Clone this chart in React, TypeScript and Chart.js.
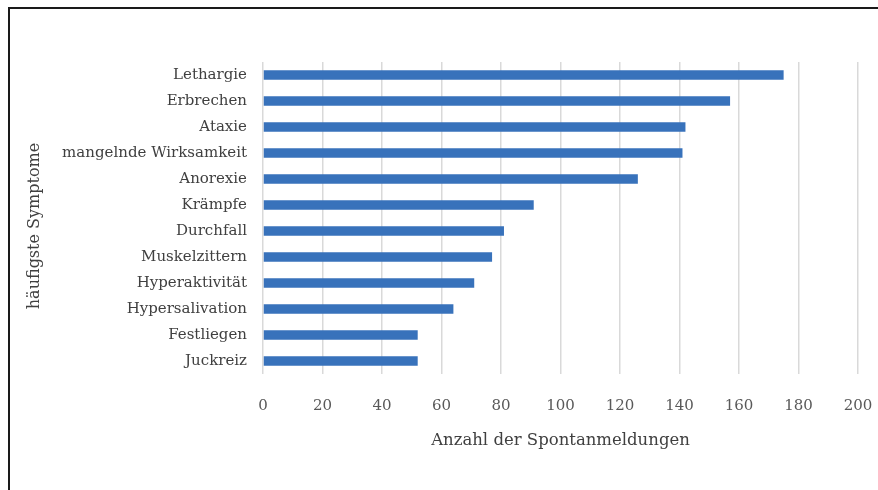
import React, { useEffect, useRef } from "react";
import { Chart, registerables } from "chart.js";

Chart.register(...registerables);

const categories = [
  "Lethargie",
  "Erbrechen",
  "Ataxie",
  "mangelnde Wirksamkeit",
  "Anorexie",
  "Krämpfe",
  "Durchfall",
  "Muskelzittern",
  "Hyperaktivität",
  "Hypersalivation",
  "Festliegen",
  "Juckreiz",
];
const counts = [175, 157, 142, 141, 126, 91, 81, 77, 71, 64, 52, 52];
const xMin = 0;
const xMax = 200;
const xStep = 20;
const xTitle = "Anzahl der Spontanmeldungen";
const yTitle = "häufigste Symptome";

const FONT = "'DejaVu Serif', 'Liberation Serif', serif";

const yTitlePlugin = {
  id: "yTitlePlugin",
  afterDraw(chart: any) {
    const { ctx, chartArea } = chart;
    ctx.save();
    ctx.translate(35, (chartArea.top + chartArea.bottom) / 2 + 8);
    ctx.rotate(-Math.PI / 2);
    ctx.fillStyle = "#404040";
    ctx.font = `16px ${FONT}`;
    ctx.textAlign = "center";
    ctx.textBaseline = "middle";
    ctx.fillText(yTitle, 0, 0);
    ctx.restore();
  },
};

export default function App() {
  const ref = useRef<HTMLCanvasElement | null>(null);

  useEffect(() => {
    if (!ref.current) return;
    const chart = new Chart(ref.current, {
      type: "bar",
      data: {
        labels: categories,
        datasets: [
          {
            data: counts,
            backgroundColor: "#3872bb",
            borderWidth: 0,
            barPercentage: 0.36,
            categoryPercentage: 1,
          },
        ],
      },
      plugins: [yTitlePlugin],
      options: {
        indexAxis: "y",
        responsive: false,
        animation: false,
        layout: { padding: { top: 62, right: 20, bottom: 0, left: 10 } },
        plugins: { legend: { display: false }, tooltip: { enabled: false } },
        scales: {
          x: {
            min: xMin,
            max: xMax,
            ticks: {
              stepSize: xStep,
              padding: 23,
              color: "#595959",
              font: { family: FONT, size: 15 },
            },
            grid: { color: "#d9d9d9", lineWidth: 1.5, drawTicks: false },
            border: { display: false },
            title: {
              display: true,
              text: xTitle,
              color: "#404040",
              font: { family: FONT, size: 16.5 },
              padding: { top: 0, bottom: 39 },
            },
            afterFit: (scale: any) => {
              scale.height = 490 - 374;
              scale.paddingRight = 0;
              scale.paddingLeft = 0;
            },
          },
          y: {
            ticks: {
              padding: 16,
              color: "#404040",
              font: { family: FONT, size: 15 },
            },
            grid: { display: false, drawTicks: false },
            border: { display: false },
            afterFit: (scale: any) => {
              scale.width = 263 - 10;
            },
          },
        },
      },
    });
    return () => chart.destroy();
  }, []);

  return (
    <div
      style={{
        position: "fixed",
        left: 0,
        top: 0,
        width: 878,
        height: 490,
        overflow: "hidden",
        background: "#fff",
      }}
    >
      <div
        style={{
          position: "absolute",
          left: 8,
          top: 7,
          width: 900,
          height: 520,
          borderTop: "2px solid #1a1a1a",
          borderLeft: "2px solid #1a1a1a",
        }}
      />
      <canvas
        ref={ref}
        width={878}
        height={490}
        style={{ position: "absolute", left: 0, top: 0 }}
      />
    </div>
  );
}
